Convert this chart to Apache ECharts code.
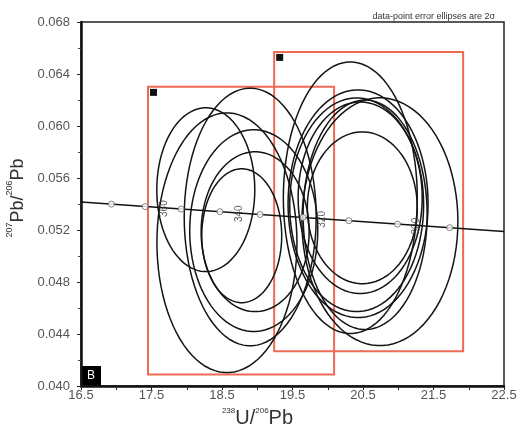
<!DOCTYPE html>
<html>
<head>
<meta charset="utf-8">
<script src="https://cdn.jsdelivr.net/npm/echarts@6/dist/echarts.min.js"></script>
<style>html,body{margin:0;padding:0;background:#fff;}#c{width:517px;height:427px;}</style>
</head>
<body>
<div id="c"></div>
<script>
// ---- data ----
// error ellipses: centre x (238U/206Pb), centre y (207Pb/206Pb), semi-axis x, semi-axis y
var ellCx = [18.27, 18.90, 18.57, 18.95, 18.97, 18.78, 20.32, 20.74, 20.43, 20.41, 20.46, 20.49, 20.53];
var ellCy = [0.0551, 0.0530, 0.05102, 0.05195, 0.05187, 0.05156, 0.05448, 0.05264, 0.05402, 0.05394, 0.05448, 0.05371, 0.05317];
var ellA  = [0.695, 0.936, 0.993, 0.908, 0.766, 0.567, 0.95, 1.106, 0.993, 0.95, 0.88, 0.78, 0.88];
var ellB  = [0.0063, 0.00991, 0.00999, 0.00776, 0.00615, 0.00515, 0.01045, 0.00953, 0.00876, 0.00822, 0.00737, 0.00584, 0.00883];
// red boxes: x0, y0, x1, y1
var boxX0 = [17.45, 19.24];
var boxY0 = [0.04088, 0.04267];
var boxX1 = [20.09, 21.92];
var boxY1 = [0.06301, 0.0657];
// concordia line and age markers
var lineX = [16.5, 22.5];
var lineY = [0.05415, 0.05189];
var concX = [16.93, 17.41, 17.92, 18.47, 19.04, 19.65, 20.30, 20.99, 21.73];
var concY = [0.05399, 0.0538, 0.05361, 0.05341, 0.05319, 0.05297, 0.05272, 0.05245, 0.05218];
var concAge = [370, 360, 350, 340, 330, 320, 310, 300, 290];
var labelledAges = [360, 340, 320, 300];
// axes
var xMin = 16.5, xMax = 22.5, xStep = 0.5;
var yMin = 0.040, yMax = 0.068, yStep = 0.004;
var noteText = 'data-point error ellipses are 2σ';
var panelLetter = 'B';

var chart = echarts.init(document.getElementById('c'), null, {renderer: 'canvas'});

var ellData = ellCx.map(function (v, i) { return [v, ellCy[i], ellA[i], ellB[i]]; });
var boxData = boxX0.map(function (v, i) { return [v, boxY0[i], boxX1[i], boxY1[i]]; });
var lineData = lineX.map(function (v, i) { return [v, lineY[i]]; });
var concData = concX.map(function (v, i) {
  return {value: [v, concY[i]], age: concAge[i]};
});
var labData = concX.map(function (v, i) { return {value: [v, concY[i]], age: concAge[i]}; })
  .filter(function (d) { return labelledAges.indexOf(d.age) >= 0; });

var lblFont = 'Liberation Sans, Arial, sans-serif';

chart.setOption({
  animation: false,
  backgroundColor: '#fff',
  title: {
    text: noteText,
    right: 17, top: 7,
    textStyle: {fontSize: 9, fontWeight: 'normal', color: '#333', fontFamily: lblFont}
  },
  grid: {left: 81, right: 13, top: 22, bottom: 41, show: true, borderColor: '#222', borderWidth: 1.5,
    containLabel: false, outerBoundsMode: 'none'},
  xAxis: {
    type: 'value', min: xMin, max: xMax, interval: xStep,
    name: '{s|238}{n|U/}{s|206}{n|Pb}',
    nameLocation: 'middle', nameGap: 17,
    nameTextStyle: {
      padding: [0, 70, 0, 0],
      rich: {
        n: {fontSize: 20, color: '#333', fontFamily: lblFont, verticalAlign: 'bottom', lineHeight: 22},
        s: {fontSize: 8, color: '#333', fontFamily: lblFont, verticalAlign: 'top', lineHeight: 22}
      }
    },
    axisLine: {show: true, onZero: false, lineStyle: {color: '#111', width: 2.5}},
    axisTick: {show: true, length: 4, lineStyle: {color: '#222', width: 1}},
    splitLine: {show: false},
    axisLabel: {
      color: '#555', fontSize: 13, fontFamily: lblFont, margin: 3,
      formatter: function (v) {
        var r = Math.round(v * 10) / 10;
        return (Math.abs((r * 10) % 10) === 5) ? r.toFixed(1) : '';
      }
    }
  },
  yAxis: {
    type: 'value', min: yMin, max: yMax, interval: yStep,
    name: '{s|207}{n|Pb/}{s|206}{n|Pb}',
    nameLocation: 'middle', nameGap: 50, nameRotate: 90,
    nameTextStyle: {
      padding: [0, 0, 0, 12],
      rich: {
        n: {fontSize: 18, color: '#333', fontFamily: lblFont, verticalAlign: 'bottom', lineHeight: 22},
        s: {fontSize: 9, color: '#333', fontFamily: lblFont, verticalAlign: 'top', lineHeight: 22}
      }
    },
    axisLine: {show: true, onZero: false, lineStyle: {color: '#111', width: 2.5}},
    axisTick: {show: true, length: 4, lineStyle: {color: '#222', width: 1}},
    minorTick: {show: true, splitNumber: 2, length: 3, lineStyle: {color: '#444'}},
    splitLine: {show: false},
    axisLabel: {
      color: '#555', fontSize: 13, fontFamily: lblFont, margin: 11,
      formatter: function (v) { return v.toFixed(3); }
    }
  },
  graphic: [{
    type: 'group', left: 81, bottom: 41,
    children: [
      {type: 'rect', shape: {x: 0, y: 0, width: 20, height: 20}, style: {fill: '#000'}},
      {type: 'text', style: {x: 10, y: 10, text: panelLetter, fill: '#fff', font: '12px Liberation Sans, Arial', align: 'center', verticalAlign: 'middle'}}
    ]
  }],
  series: [
    {
      type: 'custom', name: 'boxes', data: boxData, z: 2, silent: true,
      encode: {x: [0, 2], y: [1, 3]},
      renderItem: function (params, api) {
        var p0 = api.coord([api.value(0), api.value(3)]);
        var p1 = api.coord([api.value(2), api.value(1)]);
        return {
          type: 'group',
          children: [
            {type: 'rect', shape: {x: p0[0], y: p0[1], width: p1[0] - p0[0], height: p1[1] - p0[1]},
              style: {fill: 'none', stroke: '#ee6a55', lineWidth: 2}},
            {type: 'rect', shape: {x: p0[0] + 2, y: p0[1] + 2, width: 7, height: 7},
              style: {fill: '#111'}}
          ]
        };
      }
    },
    {
      type: 'custom', name: 'ellipses', data: ellData, z: 3, silent: true,
      encode: {x: 0, y: 1},
      renderItem: function (params, api) {
        var cx = api.value(0), cy = api.value(1), a = api.value(2), b = api.value(3);
        var pts = [];
        for (var i = 0; i < 90; i++) {
          var t = i / 90 * Math.PI * 2;
          pts.push(api.coord([cx + a * Math.cos(t), cy + b * Math.sin(t)]));
        }
        return {type: 'polygon', shape: {points: pts}, style: {fill: 'none', stroke: '#141414', lineWidth: 1.5}};
      }
    },
    {
      type: 'line', name: 'concordia', data: lineData, z: 4, silent: true,
      symbol: 'none', lineStyle: {color: '#111', width: 1.6}
    },
    {
      type: 'scatter', name: 'ages', data: concData, z: 5, silent: true,
      symbol: 'circle', symbolSize: 6,
      itemStyle: {color: '#fff', borderColor: '#666', borderWidth: 1}
    },
    {
      type: 'scatter', name: 'ageLabels', data: labData, z: 6, silent: true,
      symbolSize: 0,
      label: {
        show: true, position: 'inside', rotate: 90, offset: [-2, 19],
        fontSize: 10, color: '#333', fontFamily: lblFont,
        formatter: function (p) { return String(p.data.age); }
      }
    }
  ]
});
</script>
</body>
</html>
